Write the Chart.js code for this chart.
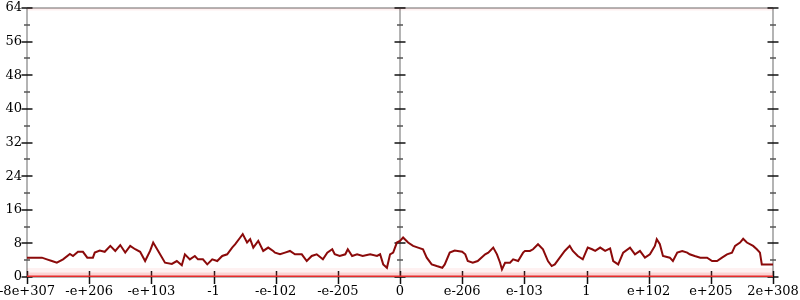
<!DOCTYPE html>
<html>
<head>
<meta charset="utf-8">
<script src="https://cdn.jsdelivr.net/npm/chart.js@4"></script>
<style>
    html, body { margin: 0; padding: 0; background: #fff; }
    #wrap { width: 800px; height: 300px; }
</style>
</head>
<body>
<div id="wrap"><canvas id="chart" width="800" height="300"></canvas></div>
<script>
// x positions are in tick units (0 = -8e+307 ... 6 = 0 ... 12 = 2e+308)
const tickLabels = ['-8e+307', '-e+206', '-e+103', '-1', '-e-102', '-e-205', '0',
    'e-206', 'e-103', '1', 'e+102', 'e+205', '2e+308'];

const binX = [
    0.00, 0.24, 0.32, 0.40, 0.48, 0.58, 0.69, 0.74, 0.82, 0.90, 0.97, 1.06, 1.09, 1.17, 1.25,
    1.34, 1.42, 1.50, 1.58, 1.66, 1.74, 1.82, 1.90, 1.98, 2.03, 2.11, 2.22, 2.33, 2.41, 2.49,
    2.54, 2.62, 2.70, 2.75, 2.83, 2.90, 2.98, 3.06, 3.14, 3.22, 3.30, 3.35, 3.43, 3.47, 3.54,
    3.59, 3.64, 3.72, 3.80, 3.88, 3.96, 3.99, 4.07, 4.15, 4.23, 4.31, 4.42, 4.50, 4.58, 4.66,
    4.76, 4.83, 4.91, 4.95, 5.03, 5.12, 5.16, 5.23, 5.31, 5.40, 5.52, 5.63, 5.68, 5.73, 5.79,
    5.84, 5.89, 5.95, 6.00, 6.05, 6.13, 6.21, 6.29, 6.37, 6.43, 6.51, 6.59, 6.68, 6.72, 6.80,
    6.88, 7.00, 7.05, 7.09, 7.17, 7.25, 7.37, 7.42, 7.50, 7.56, 7.61, 7.64, 7.69, 7.77, 7.82,
    7.90, 7.98, 8.01, 8.09, 8.14, 8.22, 8.30, 8.38, 8.44, 8.49, 8.57, 8.65, 8.73, 8.78, 8.86,
    8.94, 9.02, 9.09, 9.14, 9.22, 9.30, 9.38, 9.43, 9.51, 9.59, 9.70, 9.78, 9.86, 9.94, 10.02,
    10.10, 10.13, 10.18, 10.23, 10.34, 10.39, 10.46, 10.54, 10.62, 10.66, 10.74, 10.83, 10.94, 11.02, 11.10,
    11.18, 11.26, 11.34, 11.39, 11.47, 11.52, 11.58, 11.68, 11.74, 11.79, 11.82, 12.00
];

const binCounts = [
    4.6, 4.6, 4.2, 3.8, 3.4, 4.2, 5.5, 5.0, 6.0, 6.0, 4.6, 4.6, 5.8, 6.3, 6.0,
    7.4, 6.2, 7.6, 5.8, 7.4, 6.6, 6.0, 3.8, 6.2, 8.2, 6.2, 3.4, 3.1, 3.8, 2.8,
    5.4, 4.2, 5.0, 4.2, 4.2, 3.0, 4.2, 3.8, 5.0, 5.4, 7.0, 7.8, 9.4, 10.2, 8.2,
    9.0, 7.0, 8.6, 6.2, 7.0, 6.2, 5.8, 5.4, 5.8, 6.2, 5.4, 5.4, 3.8, 5.0, 5.4,
    4.2, 5.8, 6.6, 5.4, 5.0, 5.4, 6.6, 5.0, 5.4, 5.0, 5.4, 5.0, 5.4, 3.0, 2.2,
    5.4, 5.8, 8.2, 8.6, 9.4, 8.2, 7.4, 7.0, 6.6, 4.6, 3.0, 2.6, 2.2, 3.0, 5.8,
    6.3, 6.0, 5.4, 3.8, 3.4, 3.8, 5.4, 5.8, 7.0, 5.4, 3.4, 1.8, 3.4, 3.4, 4.2,
    3.8, 5.8, 6.2, 6.2, 6.6, 7.8, 6.6, 3.8, 2.6, 3.0, 4.6, 6.2, 7.4, 6.2, 5.0,
    4.2, 7.0, 6.6, 6.2, 7.0, 6.2, 6.8, 3.8, 3.0, 5.8, 7.0, 5.4, 6.2, 4.6, 5.4,
    7.4, 9.0, 7.8, 5.0, 4.6, 3.8, 5.8, 6.2, 5.8, 5.4, 5.0, 4.6, 4.6, 3.8, 3.8,
    4.6, 5.4, 5.8, 7.4, 8.2, 9.1, 8.2, 7.4, 6.6, 5.8, 3.0, 3.0
];

// faint sample bands along the bottom and top edges
const bandX = [0, 12];
const floorBand = [0, 0];
const ceilBand = [64, 64];

const yMax = 64;

function pts(xs, ys) {
    return xs.map((x, i) => ({ x: x, y: ys[i] }));
}

// axes drawn like the original: frame lines plus ticks crossing each vertical axis
const axisFrame = {
    id: 'axisFrame',
    beforeDatasetsDraw(chart) {
        const { ctx, chartArea: a, scales: { x, y } } = chart;
        const line = (x1, y1, x2, y2) => {
            ctx.beginPath();
            ctx.moveTo(x1, y1);
            ctx.lineTo(x2, y2);
            ctx.stroke();
        };
        ctx.save();
        ctx.strokeStyle = '#b4b4b4';
        ctx.lineWidth = 2;
        line(a.left, a.top, a.right, a.top);
        line(a.left, a.bottom, a.right, a.bottom);
        [0, 6, 12].forEach(v => {
            const px = Math.round(x.getPixelForValue(v));
            line(px, a.top, px, a.bottom);
        });

        ctx.lineWidth = 1.5;
        [0, 6, 12].forEach(v => {
            const px = Math.round(x.getPixelForValue(v));
            for (let t = 0; t <= yMax; t += 4) {
                const py = Math.round(y.getPixelForValue(t));
                const major = t % 8 === 0;
                ctx.strokeStyle = major ? '#111' : '#555';
                const len = major ? 5.5 : 3;
                line(px - len, py, px + len, py);
            }
        });

        ctx.strokeStyle = '#111';
        for (let i = 0; i <= 12; i++) {
            const px = Math.round(x.getPixelForValue(i)) + 0.5;
            line(px, a.bottom - 6, px, a.bottom + 7);
        }
        ctx.restore();
    }
};

const ctx = document.getElementById('chart').getContext('2d');
new Chart(ctx, {
    type: 'line',
    data: {
        datasets: [
            {
                label: 'counts',
                data: pts(binX, binCounts),
                borderColor: '#8b0a0a',
                borderWidth: 2,
                pointRadius: 0,
                tension: 0,
                order: 1
            },
            {
                label: 'floor haze',
                data: pts(bandX, floorBand),
                borderColor: 'rgba(240, 60, 60, 0.07)',
                borderWidth: 18,
                pointRadius: 0,
                order: 4
            },
            {
                label: 'floor haze inner',
                data: pts(bandX, floorBand),
                borderColor: 'rgba(240, 60, 60, 0.16)',
                borderWidth: 9,
                pointRadius: 0,
                order: 3
            },
            {
                label: 'floor',
                data: pts(bandX, floorBand),
                borderColor: '#e62c2c',
                borderWidth: 3,
                pointRadius: 0,
                order: 2
            },
            {
                label: 'ceiling haze',
                data: pts(bandX, ceilBand),
                borderColor: 'rgba(240, 60, 60, 0.08)',
                borderWidth: 5,
                pointRadius: 0,
                order: 5
            }
        ]
    },
    options: {
        responsive: false,
        animation: false,
        layout: { padding: { top: 8, right: 27, left: 0, bottom: 0 } },
        plugins: {
            legend: { display: false },
            tooltip: { enabled: false }
        },
        scales: {
            x: {
                type: 'linear',
                min: 0,
                max: 12,
                afterFit: s => {
                    s.height = 23;
                    s.paddingLeft = 0;
                    s.paddingRight = 0;
                },
                afterBuildTicks: s => { s.ticks = tickLabels.map((_, i) => ({ value: i })); },
                grid: { display: false, drawTicks: false },
                border: { display: false },
                ticks: {
                    color: '#000',
                    font: { family: 'DejaVu Serif', size: 13 },
                    padding: 7,
                    maxRotation: 0,
                    autoSkip: false,
                    callback: v => tickLabels[v]
                }
            },
            y: {
                min: 0,
                max: yMax,
                afterFit: s => {
                    s.width = 27;
                    s.paddingTop = 0;
                    s.paddingBottom = 0;
                },
                grid: { display: false, drawTicks: false },
                border: { display: false },
                ticks: {
                    stepSize: 8,
                    color: '#000',
                    font: { family: 'DejaVu Serif', size: 13 },
                    padding: 5
                }
            }
        }
    },
    plugins: [axisFrame]
});
</script>
</body>
</html>
